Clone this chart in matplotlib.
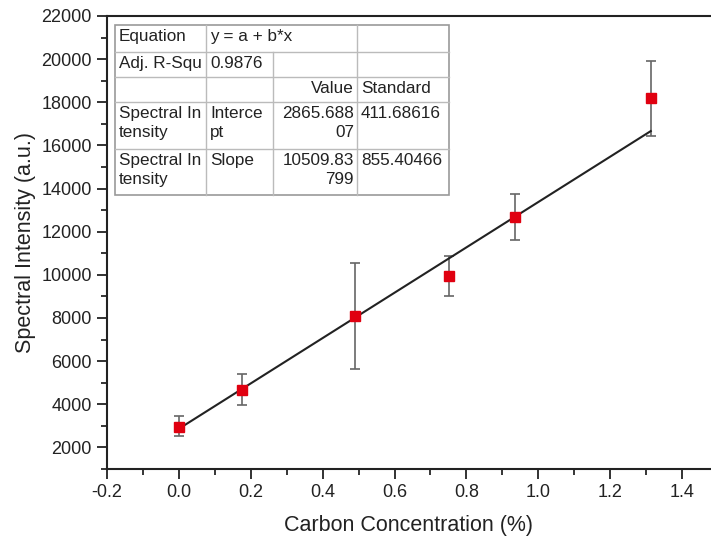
import matplotlib
matplotlib.use("Agg")
import matplotlib.pyplot as plt
from matplotlib.lines import Line2D
from matplotlib.ticker import MultipleLocator

plt.rcParams['font.family'] = ['Liberation Sans', 'DejaVu Sans']

# data
conc = [0.0, 0.175, 0.49, 0.751, 0.935, 1.313]
intensity = [2926, 4685, 8111, 9963, 12694, 18190]
err_low = [2509, 3977, 5657, 9023, 11630, 16444]
err_high = [3435, 5412, 10551, 10889, 13745, 19917]
intercept = 2865.68807
slope = 10509.83799
fit_x = [0.0, 1.313]

table_rows = [
    ["Equation", "y = a + b*x", "", ""],
    ["Adj. R-Squ", "0.9876", "", ""],
    ["", "", "Value", "Standard"],
    ["Spectral In\ntensity", "Interce\npt", "2865.688\n07", "411.68616"],
    ["Spectral In\ntensity", "Slope", "10509.83\n799", "855.40466"],
]

W, H = 711, 538
fig = plt.figure(figsize=(W / 100, H / 100), dpi=100)
ax = fig.add_axes([107 / W, (H - 469) / H, (W - 107) / W, (469 - 16) / H])

lo = [v - l for v, l in zip(intensity, err_low)]
hi = [h - v for v, h in zip(intensity, err_high)]
ax.errorbar(conc, intensity, yerr=[lo, hi], fmt='none', ecolor='#666666',
            elinewidth=1.2, capsize=3.3, capthick=1.2, zorder=2)
fy = [intercept + slope * x for x in fit_x]
ax.plot(fit_x, fy, color='#222222', lw=1.5, zorder=3)
ax.plot(conc, intensity, 's', color='#e00010', markersize=7.5, zorder=4)

ax.set_xlim(-0.2, 1.4806)
ax.set_ylim(1000, 22000)
ax.xaxis.set_minor_locator(MultipleLocator(0.1))
ax.yaxis.set_minor_locator(MultipleLocator(1000))
ax.set_yticks(range(2000, 22001, 2000))
ax.set_xticks([-0.2, 0.0, 0.2, 0.4, 0.6, 0.8, 1.0, 1.2, 1.4])
ax.set_xticklabels(['-0.2', '0.0', '0.2', '0.4', '0.6', '0.8', '1.0', '1.2', '1.4'])
ax.tick_params(which='major', direction='out', length=7, width=1.3, labelsize=13,
               colors='#222222', pad=4)
ax.tick_params(which='minor', direction='out', length=4, width=1.1)
ax.spines['right'].set_visible(False)
for s in ['left', 'bottom', 'top']:
    ax.spines[s].set_linewidth(1.5)
    ax.spines[s].set_color('#222222')
ax.set_xlabel('Carbon Concentration (%)', fontsize=15.5, color='#222222', labelpad=10)
ax.set_ylabel('Spectral Intensity (a.u.)', fontsize=15.5, color='#222222', labelpad=4)

# table (pixel layout)
def fx(px):
    return px / W

def fyp(py):
    return (H - py) / H

L, R, T, B = 115, 449, 25, 195
cols = [115, 206, 273, 357, 449]
rows = [25, 51.7, 76.7, 102.3, 149, 195]
gc = '#bbbbbb'
fig.add_artist(plt.Rectangle((fx(L), fyp(B)), fx(R) - fx(L), fyp(T) - fyp(B),
                             transform=fig.transFigure, fill=True, facecolor='white',
                             edgecolor='#999999', lw=1.2, zorder=5))
for r in rows[1:-1]:
    fig.add_artist(Line2D([fx(L), fx(R)], [fyp(r), fyp(r)], color=gc, lw=1, zorder=6))
fig.add_artist(Line2D([fx(206), fx(206)], [fyp(T), fyp(B)], color=gc, lw=1, zorder=6))
fig.add_artist(Line2D([fx(273), fx(273)], [fyp(rows[1]), fyp(B)], color=gc, lw=1, zorder=6))
fig.add_artist(Line2D([fx(357), fx(357)], [fyp(T), fyp(B)], color=gc, lw=1, zorder=6))

for ri, row in enumerate(table_rows):
    ytop = rows[ri]
    for ci, txt in enumerate(row):
        if not txt:
            continue
        if ci == 2:
            x = cols[3] - 3
            ha = 'right'
        else:
            x = cols[ci] + 4
            ha = 'left'
        fig.text(fx(x), fyp(ytop + 4), txt, ha=ha, va='top', fontsize=12.3,
                 color='#222222', linespacing=1.3, zorder=7)

fig.savefig('out.png', dpi=100)
